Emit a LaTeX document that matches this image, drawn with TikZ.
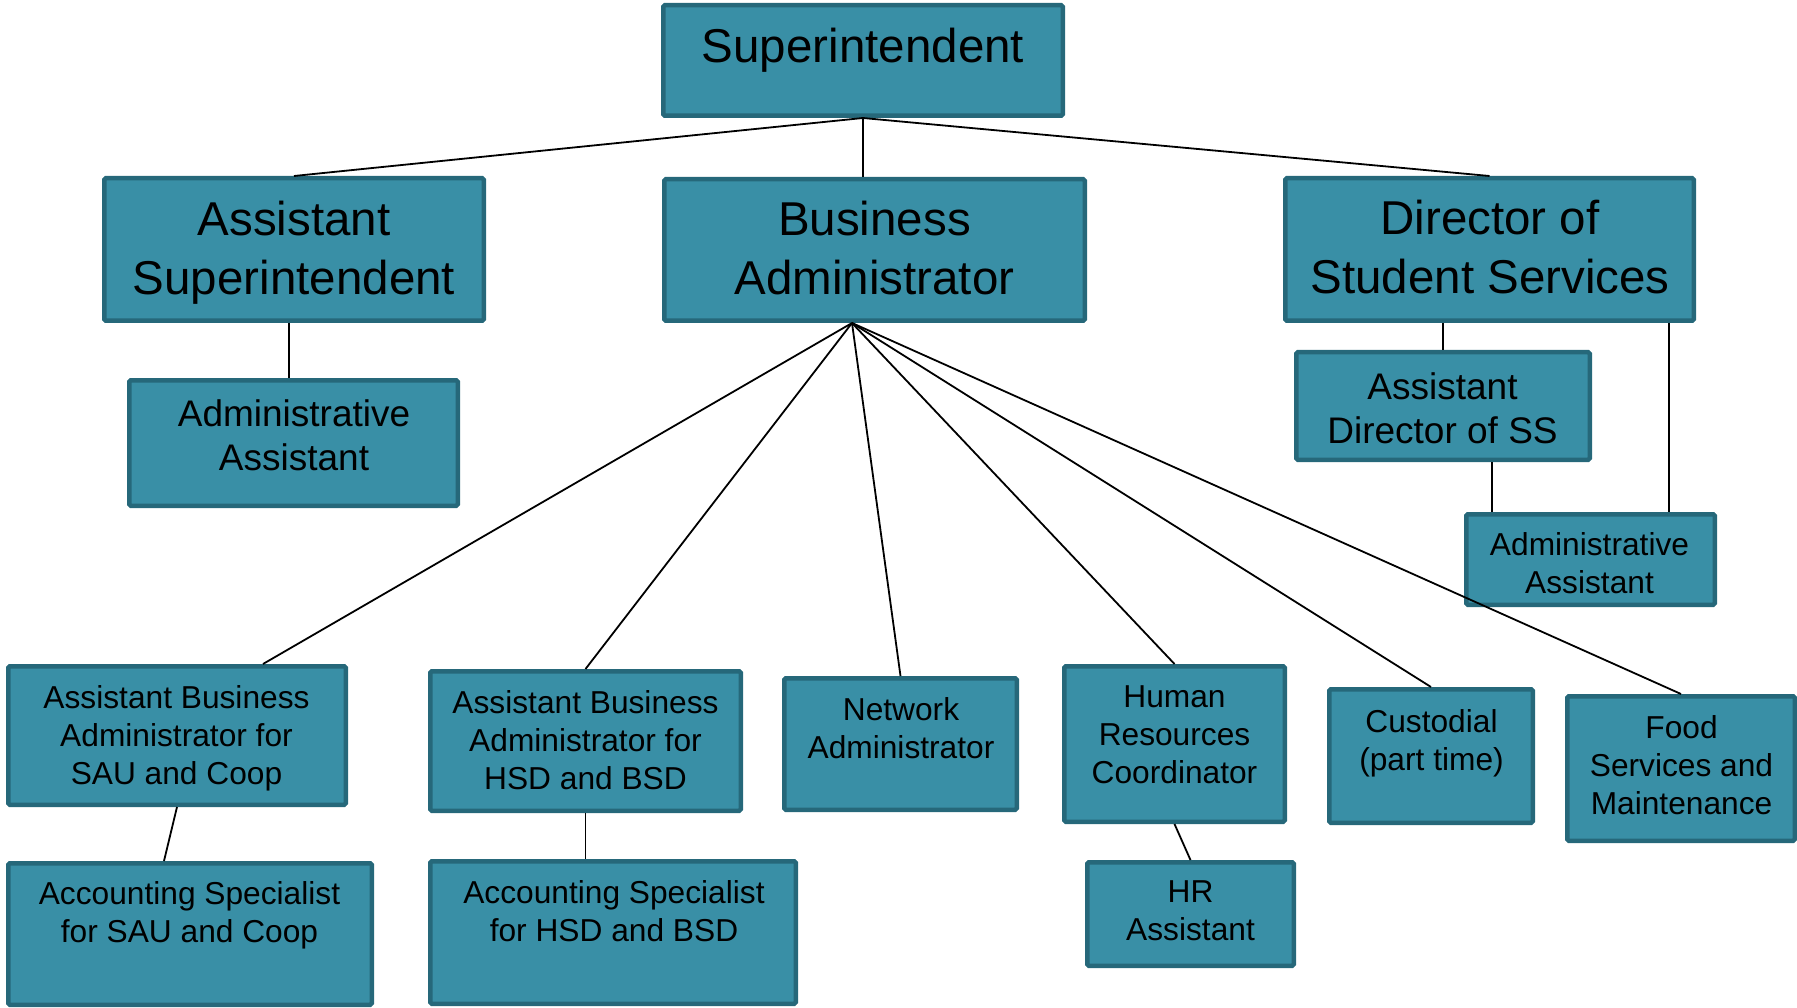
\documentclass[tikz,border=0pt]{standalone}
\usepackage{fontspec}
\setmainfont{Liberation Sans}
\definecolor{unitfill}{RGB}{57,143,166}
\definecolor{unitedge}{RGB}{38,104,122}

\begin{document}
\begin{tikzpicture}[x=1pt,y=-1pt,
    orgbox/.style={draw=unitedge, fill=unitfill, line width=4.5pt, rounded corners=1.5pt, inner sep=0pt},
    bigtxt/.style={inner sep=0pt, align=center, yshift=-2pt, font=\fontsize{47.5}{59}\selectfont},
    midtxt/.style={inner sep=0pt, align=center, yshift=-1.5pt, font=\fontsize{37}{44}\selectfont},
    smalltxt/.style={inner sep=0pt, align=center, yshift=-1.5pt, font=\fontsize{31.7}{38}\selectfont},
    link/.style={draw=black, line width=1.8pt}]
    \useasboundingbox (0,0) rectangle (1797,1008);

    % Top level
    \node[orgbox, minimum width=399.5pt, minimum height=110.5pt] (supt) at (863,60.5) {};
    \node[bigtxt] (supt-t) at (863,48) {Superintendent};

    % Second level
    \node[orgbox, minimum width=379.5pt, minimum height=142.5pt] (asup) at (294,249.5) {};
    \node[bigtxt] (asup-t) at (294,250.5) {Assistant\\Superintendent};
    \node[orgbox, minimum width=420.5pt, minimum height=141.5pt] (badm) at (874.5,250) {};
    \node[bigtxt] (badm-t) at (874.5,246.5) {Business\\Administrator};
    \node[orgbox, minimum width=408.5pt, minimum height=142.5pt] (dss) at (1489.5,249.5) {};
    \node[bigtxt] (dss-t) at (1490,245.5) {Director of\\Student Services};

    % Assistants under second level
    \node[orgbox, minimum width=328.5pt, minimum height=125.5pt] (aasl) at (293.5,443) {};
    \node[midtxt] (aasl-t) at (294,434) {Administrative\\Assistant};
    \node[orgbox, minimum width=293.5pt, minimum height=107.5pt] (adss) at (1443,406) {};
    \node[midtxt] (adss-t) at (1442.5,407) {Assistant\\Director of SS};
    \node[orgbox, minimum width=248.5pt, minimum height=90.5pt] (aasr) at (1590.5,559.5) {};
    \node[smalltxt] (aasr-t) at (1589.5,561.5) {Administrative\\Assistant};

    % Business office row
    \node[orgbox, minimum width=337.5pt, minimum height=138.5pt] (abasau) at (177,735.5) {};
    \node[smalltxt] (abasau-t) at (176.5,737) {Assistant Business\\Administrator for\\SAU and Coop};
    \node[orgbox, minimum width=310.5pt, minimum height=139.5pt] (abahsd) at (585.5,741) {};
    \node[smalltxt] (abahsd-t) at (585.5,738.5) {Assistant Business\\Administrator for\\HSD and BSD};
    \node[orgbox, minimum width=232.5pt, minimum height=131.5pt] (netadm) at (900.5,744) {};
    \node[smalltxt] (netadm-t) at (901,726.5) {Network\\Administrator};
    \node[orgbox, minimum width=220.5pt, minimum height=155.5pt] (hrc) at (1174.5,744) {};
    \node[smalltxt] (hrc-t) at (1174.5,733.5) {Human\\Resources\\Coordinator};
    \node[orgbox, minimum width=203.5pt, minimum height=133.5pt] (cust) at (1431,756) {};
    \node[smalltxt] (cust-t) at (1431.5,742) {Custodial\\(part time)};
    \node[orgbox, minimum width=227.5pt, minimum height=144.5pt] (food) at (1681,768.5) {};
    \node[smalltxt] (food-t) at (1681.5,763.5) {Food\\Services and\\Maintenance};

    % Bottom row
    \node[orgbox, minimum width=363.5pt, minimum height=141.5pt] (accsau) at (190,934) {};
    \node[smalltxt] (accsau-t) at (189.5,913.5) {Accounting Specialist\\for SAU and Coop};
    \node[orgbox, minimum width=365.5pt, minimum height=142.5pt] (acchsd) at (613,932.5) {};
    \node[smalltxt] (acchsd-t) at (614,909.5) {Accounting Specialist\\for HSD and BSD};
    \node[orgbox, minimum width=206.5pt, minimum height=103.5pt] (hra) at (1190.5,914) {};
    \node[smalltxt] (hra-t) at (1190.5,909.5) {HR\\Assistant};

    % Connectors from the top
    \draw[link] (asup.north) -- (supt.south) -- (dss.north);
    \draw[link] (supt.south) -- (supt.south |- badm.north);
    \draw[link] ([xshift=-5pt]asup.south) -- ([xshift=-5pt]asup.south |- aasl.north);

    % Business administrator fan
    \coordinate (bapt) at ([xshift=-22.5pt]badm.south);
    \draw[link] (bapt) -- ([xshift=86pt]abasau.north);
    \draw[link] (bapt) -- (abahsd.north);
    \draw[link] (bapt) -- (netadm.north);
    \draw[link] (bapt) -- (hrc.north);
    \draw[link] (bapt) -- (cust.north);
    \draw[link] (bapt) -- (food.north);

    % Under the business office
    \draw[link] (abasau.south) -- ([xshift=-26pt]accsau.north);
    \draw[link] (abahsd.south) -- (abahsd.south |- acchsd.north);
    \draw[link] (hrc.south) -- (hra.north);

    % Student services
    \draw[link] (adss.north |- dss.south) -- (adss.north);
    \draw[link] ([xshift=49pt]adss.south) -- ([xshift=49pt]adss.south |- aasr.north);
    \draw[link] ([xshift=78.5pt]aasr.north |- dss.south) -- ([xshift=78.5pt]aasr.north);
\end{tikzpicture}
\end{document}
